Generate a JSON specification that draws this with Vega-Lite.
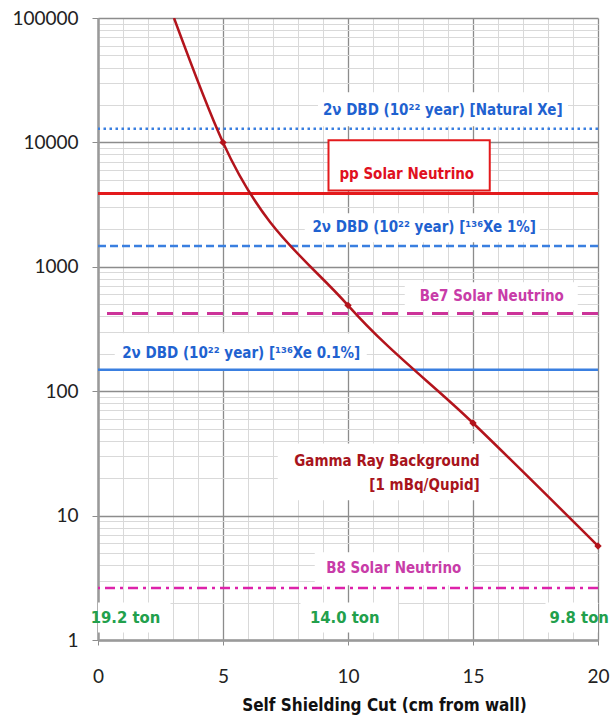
{
  "$schema": "https://vega.github.io/schema/vega-lite/v6.json",
  "width": 500,
  "height": 622,
  "autosize": "none",
  "padding": {"left": 98, "top": 18, "right": 14, "bottom": 75},
  "background": "white",
  "config": {
    "view": {"stroke": null},
    "text": {"font": "DejaVu Sans Condensed, Liberation Sans", "fontWeight": "bold", "fontSize": 15}
  },
  "datasets": {
    "curve": [
      {"cut": 3.04, "rate": 100000},
      {"cut": 5, "rate": 10000},
      {"cut": 10, "rate": 490},
      {"cut": 15, "rate": 55.5},
      {"cut": 20, "rate": 5.7}
    ],
    "boxes": [
      {"name": "natural", "x0": 8.8, "x1": 18.8, "y0": 13500, "y1": 25300},
      {"name": "pp", "x0": 9.22, "x1": 15.67, "y0": 4100, "y1": 10400},
      {"name": "xe1", "x0": 8.27, "x1": 17.67, "y0": 1575, "y1": 2690},
      {"name": "be7", "x0": 12.27, "x1": 19.19, "y0": 447, "y1": 750},
      {"name": "xe01", "x0": 0.67, "x1": 10.75, "y0": 150, "y1": 292},
      {"name": "gamma", "x0": 7.19, "x1": 15.67, "y0": 13.3, "y1": 38},
      {"name": "b8", "x0": 8.67, "x1": 14.95, "y0": 2.75, "y1": 5.07},
      {"name": "t192", "x0": 0, "x1": 2.9, "y0": 1.15, "y1": 2.0},
      {"name": "t140", "x0": 8.1, "x1": 12.0, "y0": 1.15, "y1": 2.0},
      {"name": "t98", "x0": 17.9, "x1": 20, "y0": 1.15, "y1": 2.0}
    ],
    "labels": [
      {"text": "2ν DBD (10²² year) [Natural Xe]", "cx": 13.79, "cy": 18100, "kind": "blue"},
      {"text": "pp Solar Neutrino", "cx": 12.35, "cy": 5620, "kind": "red"},
      {"text": "2ν DBD (10²² year) [¹³⁶Xe 1%]", "cx": 13.05, "cy": 2080, "kind": "blue"},
      {"text": "Be7 Solar Neutrino", "cx": 15.75, "cy": 580, "kind": "magenta"},
      {"text": "2ν DBD (10²² year) [¹³⁶Xe 0.1%]", "cx": 5.73, "cy": 202, "kind": "blue"},
      {"text": "B8 Solar Neutrino", "cx": 11.83, "cy": 3.77, "kind": "magenta"}
    ],
    "tons": [
      {"text": "19.2 ton", "cx": 1.1, "cy": 1.49},
      {"text": "14.0 ton", "cx": 9.87, "cy": 1.49},
      {"text": "9.8 ton", "cx": 19.25, "cy": 1.49}
    ],
    "gamma": [
      {"text": "Gamma Ray Background", "rx": 15.27, "cy": 27.3},
      {"text": "[1 mBq/Qupid]", "rx": 15.27, "cy": 17.5}
    ]
  },
  "layer": [
    {
      "data": {"name": "boxes"},
      "mark": {"type": "rect", "fill": "white", "clip": true},
      "encoding": {
        "x": {
          "field": "x0", "type": "quantitative",
          "scale": {"domain": [0, 20], "nice": false, "zero": false},
          "axis": {
            "values": [0,1,2,3,4,5,6,7,8,9,10,11,12,13,14,15,16,17,18,19,20],
            "tickCount": 100,
            "format": "d",
            "labelExpr": "datum.value % 5 == 0 ? datum.label : ''",
            "labelOverlap": false,
            "labelFlush": false,
            "grid": true,
            "gridColor": {"condition": {"test": "datum.value % 5 == 0", "value": "#8c8c8c"}, "value": "#d9d9d9"},
            "gridWidth": {"condition": {"test": "datum.value % 5 == 0", "value": 1.3}, "value": 1},
            "tickOpacity": {"condition": {"test": "datum.value % 5 == 0", "value": 1}, "value": 0},
            "tickColor": "#8c8c8c",
            "tickSize": 5,
            "domainColor": "#9a9a9a",
            "domainWidth": 2.5,
            "labelFont": "Lato",
            "labelFontSize": 19,
            "labelColor": "#222222",
            "labelPadding": 22,
            "title": "Self Shielding Cut (cm from wall)",
            "titleFont": "DejaVu Sans Condensed, Liberation Sans",
            "titleFontSize": 17,
            "titleFontWeight": "bold",
            "titleColor": "#111111",
            "titleX": 286,
            "titleY": 65,
            "titleBaseline": "middle",
            "titleAlign": "center"
          }
        },
        "x2": {"field": "x1"},
        "y": {
          "field": "y0", "type": "quantitative",
          "scale": {"type": "log", "domain": [1, 100000], "nice": false},
          "axis": {
            "values": [1,2,3,4,5,6,7,8,9,10,20,30,40,50,60,70,80,90,100,200,300,400,500,600,700,800,900,1000,2000,3000,4000,5000,6000,7000,8000,9000,10000,20000,30000,40000,50000,60000,70000,80000,90000,100000],
            "tickCount": 200,
            "format": "d",
            "labelExpr": "indexof(['1','10','100','1000','10000','100000'], datum.label) >= 0 ? datum.label : ''",
            "labelOverlap": false,
            "labelFlush": false,
            "grid": true,
            "gridColor": {"condition": {"test": "indexof([1,10,100,1000,10000,100000], datum.value) >= 0", "value": "#8c8c8c"}, "value": "#d9d9d9"},
            "gridWidth": {"condition": {"test": "indexof([1,10,100,1000,10000,100000], datum.value) >= 0", "value": 1.3}, "value": 1},
            "tickOpacity": {"condition": {"test": "indexof([1,10,100,1000,10000,100000], datum.value) >= 0", "value": 1}, "value": 0},
            "tickColor": "#8c8c8c",
            "tickSize": 6,
            "domainColor": "#9a9a9a",
            "domainWidth": 2.5,
            "labelFont": "Lato",
            "labelFontSize": 19,
            "labelColor": "#222222",
            "labelPadding": 14,
            "title": null
          }
        },
        "y2": {"field": "y1"}
      }
    },
    {
      "data": {"name": "boxes"},
      "transform": [{"filter": "datum.name == 'pp'"}],
      "mark": {"type": "rect", "fill": "white", "stroke": "#e31a1c", "strokeWidth": 2},
      "encoding": {
        "x": {"field": "x0", "type": "quantitative"},
        "x2": {"field": "x1"},
        "y": {"field": "y0", "type": "quantitative"},
        "y2": {"field": "y1"}
      }
    },
    {
      "data": {"values": [{"level": 12900}]},
      "mark": {"type": "rule", "color": "#3a7fe0", "strokeWidth": 2.5, "strokeDash": [2.5, 3.5]},
      "encoding": {"y": {"field": "level", "type": "quantitative"}}
    },
    {
      "data": {"values": [{"level": 3880}]},
      "mark": {"type": "rule", "color": "#e31a1c", "strokeWidth": 3},
      "encoding": {"y": {"field": "level", "type": "quantitative"}}
    },
    {
      "data": {"values": [{"level": 1470}]},
      "mark": {"type": "rule", "color": "#3a7fe0", "strokeWidth": 2.5, "strokeDash": [8, 4]},
      "encoding": {"y": {"field": "level", "type": "quantitative"}}
    },
    {
      "data": {"values": [{"level": 421}]},
      "mark": {"type": "rule", "color": "#cc3399", "strokeWidth": 3, "strokeDash": [16, 9]},
      "encoding": {"y": {"field": "level", "type": "quantitative"}}
    },
    {
      "data": {"values": [{"level": 149}]},
      "mark": {"type": "rule", "color": "#3a7fe0", "strokeWidth": 2.5},
      "encoding": {"y": {"field": "level", "type": "quantitative"}}
    },
    {
      "data": {"values": [{"level": 2.62}]},
      "mark": {"type": "rule", "color": "#dd22aa", "strokeWidth": 2.5, "strokeDash": [10, 5, 3, 5]},
      "encoding": {"y": {"field": "level", "type": "quantitative"}}
    },
    {
      "data": {"name": "curve"},
      "mark": {"type": "line", "color": "#b3141c", "strokeWidth": 2.5, "interpolate": "monotone", "clip": true},
      "encoding": {
        "x": {"field": "cut", "type": "quantitative"},
        "y": {"field": "rate", "type": "quantitative"}
      }
    },
    {
      "data": {"name": "curve"},
      "transform": [{"filter": "datum.cut >= 5"}],
      "mark": {"type": "point", "shape": "diamond", "filled": true, "size": 55, "color": "#b3141c", "opacity": 1},
      "encoding": {
        "x": {"field": "cut", "type": "quantitative"},
        "y": {"field": "rate", "type": "quantitative"}
      }
    },
    {
      "data": {"name": "labels"},
      "mark": {"type": "text", "align": "center", "baseline": "middle"},
      "encoding": {
        "x": {"field": "cx", "type": "quantitative"},
        "y": {"field": "cy", "type": "quantitative"},
        "text": {"field": "text"},
        "color": {
          "field": "kind", "type": "nominal",
          "scale": {"domain": ["blue", "red", "magenta"], "range": ["#1f62d0", "#e01020", "#c83ca8"]},
          "legend": null
        }
      }
    },
    {
      "data": {"name": "tons"},
      "mark": {"type": "text", "align": "center", "baseline": "middle", "color": "#22a04c", "fontSize": 16.5},
      "encoding": {
        "x": {"field": "cx", "type": "quantitative"},
        "y": {"field": "cy", "type": "quantitative"},
        "text": {"field": "text"}
      }
    },
    {
      "data": {"name": "gamma"},
      "mark": {"type": "text", "align": "right", "baseline": "middle", "color": "#a8141c"},
      "encoding": {
        "x": {"field": "rx", "type": "quantitative"},
        "y": {"field": "cy", "type": "quantitative"},
        "text": {"field": "text"}
      }
    }
  ]
}
